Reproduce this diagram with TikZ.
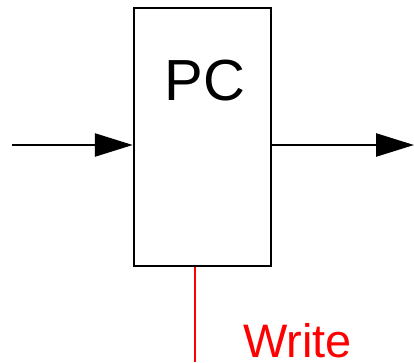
\documentclass[tikz,border=0pt]{standalone}
\usepackage{fontspec}
\setmainfont{Liberation Sans}
\usetikzlibrary{arrows.meta,positioning}

\begin{document}
\begin{tikzpicture}[
  x=1pt,y=1pt,
  reg/.style={draw=black, line width=2.5pt, minimum width=137pt, minimum height=258pt, inner sep=0pt},
  regname/.style={font=\fontsize{58}{58}\selectfont, text=black, inner sep=0pt},
  bus/.style={-{Triangle[length=38pt,width=23pt]}, draw=black, line width=2.5pt},
  ctrl/.style={draw=red, line width=2.5pt},
  ctrllabel/.style={font=\fontsize{47}{47}\selectfont, text=red, inner sep=0pt, text depth=0pt, anchor=base}
]
  \useasboundingbox (0,0) rectangle (414,362);

  \node[reg] (pc) at (202.5,225) {};
  \node[regname] (pcname) at (205,281) {PC};

  \coordinate (in) at (12,217);
  \coordinate (out) at (414,217);
  \draw[bus] (in) -- (pc.west |- in);
  \draw[bus] (pc.east |- out) -- (out);

  \coordinate (wr) at (195,0);
  \draw[ctrl] (pc.south -| wr) -- (wr);
  \node[ctrllabel] (write) at (297.5,5) {Write};
\end{tikzpicture}
\end{document}
